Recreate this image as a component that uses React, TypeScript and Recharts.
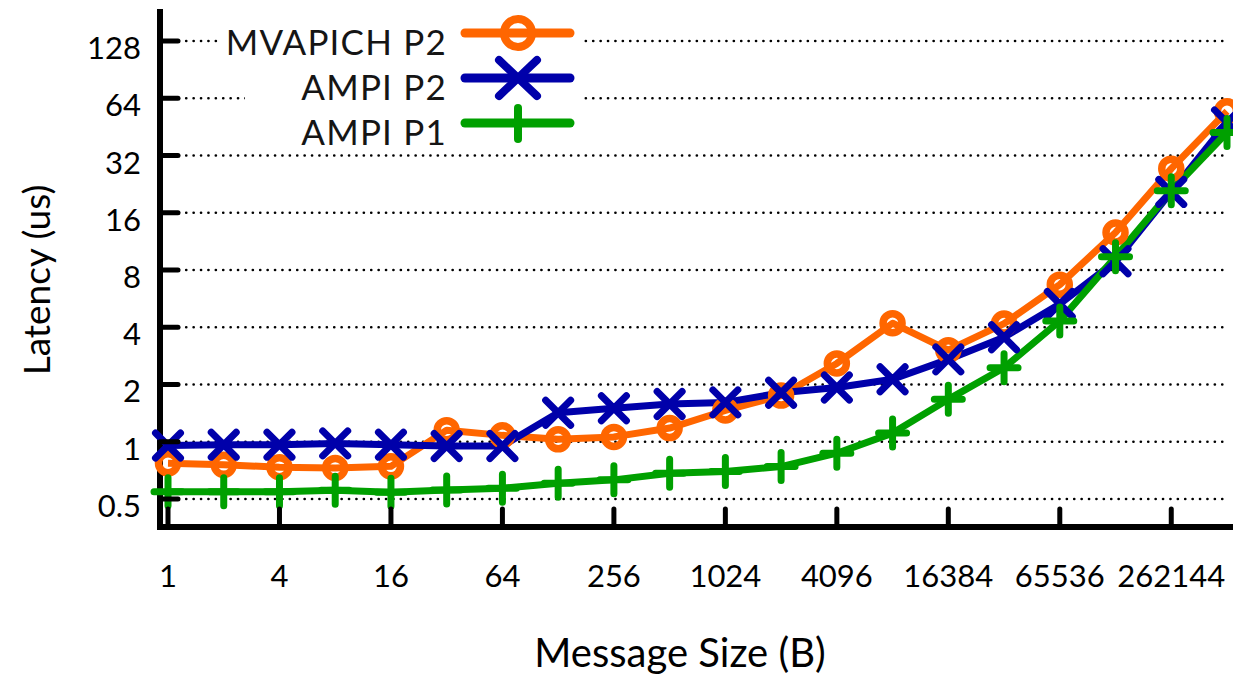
import React from 'react';
import { LineChart, Line, XAxis, YAxis, CartesianGrid, Legend } from 'recharts';

const sizes = ['1', '2', '4', '8', '16', '32', '64', '128', '256', '512', '1024', '2048', '4096', '8192', '16384', '32768', '65536', '131072', '262144', '524288'];
const mvapichP2 = [0.77, 0.756, 0.735, 0.728, 0.742, 1.15, 1.08, 1.03, 1.06, 1.18, 1.46, 1.75, 2.58, 4.2, 3.03, 4.18, 6.7, 12.6, 27.3, 54.7];
const ampiP2 = [0.955, 0.965, 0.965, 0.98, 0.965, 0.95, 0.95, 1.42, 1.5, 1.58, 1.61, 1.81, 1.93, 2.13, 2.71, 3.54, 5.3, 8.9, 20.6, 47.8];
const ampiP1 = [0.545, 0.545, 0.545, 0.556, 0.543, 0.557, 0.57, 0.605, 0.63, 0.683, 0.697, 0.74, 0.87, 1.11, 1.67, 2.45, 4.32, 9.4, 20.9, 42.3];
const yTicks = [0.5, 1, 2, 4, 8, 16, 32, 64, 128];
const yTickLabels = ['0.5', '1', '2', '4', '8', '16', '32', '64', '128'];
const seriesNames = ['MVAPICH P2', 'AMPI P2', 'AMPI P1'];

const data = sizes.map((s, i) => ({ size: s, mvapich: mvapichP2[i], ampi2: ampiP2[i], ampi1: ampiP1[i] }));

const ORANGE = '#ff6600';
const BLUE = '#0000aa';
const GREEN = '#00a000';
const FONT = 'Lato, "Open Sans", sans-serif';

const circleDot = (p: any) => {
  if (p.cx == null || p.cy == null) return <g key={`c-${p.index}`} />;
  return <circle key={`c-${p.index}`} cx={p.cx} cy={p.cy} r={9.5} fill="none" stroke={ORANGE} strokeWidth={7.5} />;
};
const crossDot = (p: any) => {
  if (p.cx == null || p.cy == null) return <g key={`x-${p.index}`} />;
  const s = 12.5;
  return (
    <path key={`x-${p.index}`} d={`M${p.cx - s},${p.cy - s}L${p.cx + s},${p.cy + s}M${p.cx - s},${p.cy + s}L${p.cx + s},${p.cy - s}`} stroke={BLUE} strokeWidth={7} strokeLinecap="round" fill="none" />
  );
};
const plusDot = (p: any) => {
  if (p.cx == null || p.cy == null) return <g key={`p-${p.index}`} />;
  const s = 14;
  return (
    <path key={`p-${p.index}`} d={`M${p.cx},${p.cy - s}L${p.cx},${p.cy + s}M${p.cx - s},${p.cy}L${p.cx + s},${p.cy}`} stroke={GREEN} strokeWidth={7} strokeLinecap="round" fill="none" />
  );
};

const YTick = (p: any) => {
  const idx = yTicks.indexOf(p.payload.value);
  return (
    <g>
      <line x1={p.x} x2={p.x + 18} y1={p.y} y2={p.y} stroke="#000" strokeWidth={5} strokeLinecap="round" />
      <text x={p.x - 19} y={p.y + 18} textAnchor="end" fontFamily={FONT} fontSize={31} fill="#000">
        {idx >= 0 ? yTickLabels[idx] : p.payload.value}
      </text>
    </g>
  );
};

const XTick = (p: any) => (
  <g>
    <line x1={p.x} x2={p.x} y1={p.y} y2={p.y - 18} stroke="#000" strokeWidth={5} strokeLinecap="round" />
    <text x={p.x} y={p.y + 60} textAnchor="middle" fontFamily={FONT} fontSize={31} fill="#000">
      {p.payload.value}
    </text>
  </g>
);

const XTitle = () => (
  <text x={680} y={667} textAnchor="middle" fontFamily={FONT} fontSize={40} fill="#000">Message Size (B)</text>
);
const YTitle = () => (
  <text x={50} y={280} transform="rotate(-90 50 280)" textAnchor="middle" fontFamily={FONT} fontSize={37} fill="#000">Latency (us)</text>
);

const LegendBox = () => {
  const rows = [
    { name: seriesNames[0], color: ORANGE, kind: 'circle' },
    { name: seriesNames[1], color: BLUE, kind: 'cross' },
    { name: seriesNames[2], color: GREEN, kind: 'plus' },
  ];
  return (
    <svg width={600} height={160} style={{ display: 'block' }}>
      <rect x={220} y={18} width={360} height={52} fill="#fff" />
      <rect x={245} y={70} width={335} height={78} fill="#fff" />
      {rows.map((r, i) => {
        const base = 55 + i * 45;
        const ly = 33 + i * 45;
        const mx = 518;
        return (
          <g key={r.name}>
            <text x={447} y={base} textAnchor="end" fontFamily={FONT} fontSize={35} letterSpacing={1.2} fill="#151515">{r.name}</text>
            <line x1={465} x2={570} y1={ly} y2={ly} stroke={r.color} strokeWidth={9} strokeLinecap="round" />
            {r.kind === 'circle' && <circle cx={mx} cy={ly} r={14} fill="none" stroke={r.color} strokeWidth={8} />}
            {r.kind === 'cross' && (
              <path d={`M${mx - 19},${ly - 18}L${mx + 19},${ly + 18}M${mx - 19},${ly + 18}L${mx + 19},${ly - 18}`} stroke={r.color} strokeWidth={8} strokeLinecap="round" />
            )}
            {r.kind === 'plus' && (
              <path d={`M${mx},${ly - 15}L${mx},${ly + 16}`} stroke={r.color} strokeWidth={8} strokeLinecap="round" />
            )}
          </g>
        );
      })}
    </svg>
  );
};

const gridLine = (p: any) => {
  const k = p.key ?? `g-${p.index}-${p.y1}`;
  if (p.y1 < 25 || p.y1 > 520) return <g key={k} />;
  return (
    <line key={k} x1={p.x1 + 4} x2={p.x2 - 8} y1={p.y1} y2={p.y2} stroke="#000" strokeWidth={2.6} strokeDasharray="0.1 7.3" strokeLinecap="round" />
  );
};

export default function App() {
  return (
    <div style={{ position: 'absolute', left: 0, top: 0, width: 1233, height: 678, background: '#fff' }}>
      <LineChart width={1233} height={678} data={data} margin={{ top: 12, right: 1, left: 0, bottom: 0 }}>
        <CartesianGrid vertical={false} horizontal={gridLine} />
        <XAxis
          dataKey="size"
          type="category"
          interval={1}
          height={151}
          padding={{ left: 8, right: 5 }}
          tickSize={0}
          tickMargin={0}
          tickLine={false}
          tick={<XTick />}
          axisLine={{ stroke: '#000', strokeWidth: 6, strokeLinecap: 'square' }}
          label={<XTitle />}
        />
        <YAxis
          scale="log"
          domain={[0.356, 182]}
          allowDataOverflow
          ticks={yTicks}
          width={160}
          tickSize={0}
          tickMargin={0}
          tickLine={false}
          tick={<YTick />}
          axisLine={{ stroke: '#000', strokeWidth: 6, strokeLinecap: 'square' }}
          label={<YTitle />}
        />
        <Legend
          layout="vertical"
          align="center"
          verticalAlign="middle"
          content={<LegendBox />}
          wrapperStyle={{ left: 0, top: 0, width: 600, height: 160 }}
        />
        <Line dataKey="mvapich" name={seriesNames[0]} stroke={ORANGE} strokeWidth={7} strokeLinejoin="round" dot={circleDot} isAnimationActive={false} />
        <Line dataKey="ampi2" name={seriesNames[1]} stroke={BLUE} strokeWidth={7} strokeLinejoin="round" dot={crossDot} isAnimationActive={false} />
        <Line dataKey="ampi1" name={seriesNames[2]} stroke={GREEN} strokeWidth={7} strokeLinejoin="round" dot={plusDot} isAnimationActive={false} />
      </LineChart>
    </div>
  );
}
